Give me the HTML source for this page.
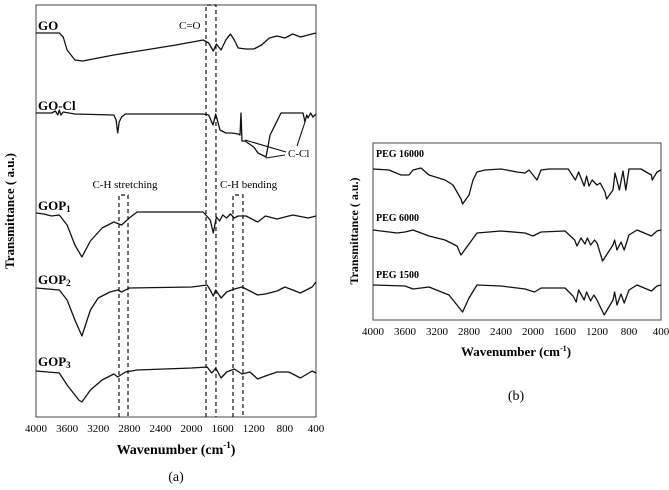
<!DOCTYPE html>
<html><head><meta charset="utf-8">
<style>
html,body{margin:0;padding:0;background:#fff;}
svg{display:block;font-family:"Liberation Serif",serif;}
</style></head>
<body>
<svg id="fig" width="669" height="490" viewBox="0 0 669 490" xmlns="http://www.w3.org/2000/svg">
<g id="pa"></g>
<g id="pb"></g>
</svg>
<script>
// ---- Panel (a) data: [wavenumber], [relative transmittance a.u. (down = absorption)]
const ticksA = [4000,3600,3200,2800,2400,2000,1600,1200,800,400];
const goW = [4000,3800,3700,3650,3600,3500,3400,3200,3000,2600,2200,1850,1780,1720,1680,1620,1560,1500,1450,1400,1300,1200,1100,1000,900,800,700,600,500,400];
const goV = [28,28,28,32,45,55,56,53,50,45,40,35,38,46,39,45,35,29,35,43,44,44,40,33,31,33,29,32,30,28];
const goclW = [4000,3800,3750,3720,3700,3680,3650,3500,3000,2970,2950,2930,2900,2850,1850,1780,1724,1690,1634,1560,1480,1400,1377,1364,1351,1313,1200,1146,1043,990,850,567,541,520,503,470,440,400];
const goclV = [108,108,106,110,105,110,107,109,110,115,128,117,112,109,109,110,120,109,125,128,128,129,130,108,136,136,142,148,152,130,108,108,117,110,113,108,112,109];
const gop1W = [4000,3900,3800,3700,3600,3500,3410,3300,3150,3000,2900,2800,2700,1850,1760,1720,1680,1640,1600,1550,1500,1450,1400,1300,1150,1050,900,700,500,400];
const gop1V = [208,209,211,210,220,240,252,236,223,217,220,213,207,207,215,228,212,216,210,213,209,213,211,211,217,211,214,210,213,211];
const gop2W = [4000,3700,3600,3500,3410,3300,3200,3050,2950,2900,2800,2000,1800,1760,1720,1690,1620,1550,1450,1350,1250,1150,1050,900,800,700,600,450,400];
const gop2V = [283,285,295,315,331,305,293,287,285,287,283,282,280,285,291,285,293,287,284,282,286,290,289,286,282,285,288,282,277];
const gop3W = [4000,3700,3600,3450,3410,3300,3150,3000,2950,2850,2700,2000,1800,1740,1690,1620,1550,1450,1350,1250,1150,1050,900,750,600,450,400];
const gop3V = [366,368,380,395,397,385,375,369,372,367,365,363,362,368,363,373,367,364,369,367,374,371,367,367,373,366,368];
// ---- Panel (b) data
const ticksB = [4000,3600,3200,2800,2400,2000,1600,1200,800,400];
const p16W = [4000,3800,3650,3550,3500,3400,3300,3100,3000,2900,2880,2800,2750,2700,2600,2400,2200,2100,2050,1950,1900,1800,1560,1470,1430,1360,1330,1300,1260,1200,1160,1100,1080,1000,975,920,875,840,800,650,520,510,450,400];
const p16V = [26,27,32,32,27,25,32,37,42,56,61,52,37,29,27,26,29,30,27,37,27,26,26,37,29,43,33,43,37,42,40,49,56,47,30,47,28,47,26,26,32,37,29,27];
const p6W = [4000,3700,3600,3500,3300,3100,2950,2900,2800,2700,2400,2100,2000,1900,1600,1480,1450,1400,1350,1320,1280,1230,1200,1130,1000,980,950,900,860,800,700,520,450,400];
const p6V = [87,90,89,87,93,97,103,112,101,90,88,90,93,89,88,97,103,95,101,95,102,97,100,118,102,97,107,99,107,92,87,93,88,87];
const p15W = [4000,3600,3500,3300,3050,2880,2800,2700,2400,2100,1980,1900,1600,1500,1460,1430,1360,1330,1280,1240,1200,1110,1000,980,950,900,860,800,700,520,450,400];
const p15V = [142,143,146,144,152,169,155,142,143,146,149,145,145,153,159,147,157,149,158,152,157,172,157,149,162,151,160,147,142,148,143,142];

const NS="http://www.w3.org/2000/svg";
function mk(parent,tag,attrs,text){const e=document.createElementNS(NS,tag);for(const k in attrs)e.setAttribute(k,attrs[k]);if(text!==undefined)e.textContent=text;parent.appendChild(e);return e;}

const A={x0:36,x1:316,y0:5,y1:417};
const xA=w=>A.x0+(4000-w)/3600*(A.x1-A.x0);
const yA=v=>A.y0+v;
const B={x0:373,x1:661,y0:143,y1:320};
const xB=w=>B.x0+(4000-w)/3600*(B.x1-B.x0);
const yB=v=>B.y0+v;

function line(g,W,V,xs,ys,name){
  const p=W.map((w,i)=>xs(w).toFixed(1)+","+ys(V[i]).toFixed(1)).join(" ");
  const e=mk(g,"polyline",{points:p,fill:"none",stroke:"#111","stroke-width":"1.3","stroke-linejoin":"round"});
  
  
}
function axes(g,G,ticks,xs,name){
  const r=mk(g,"rect",{x:G.x0,y:G.y0,width:G.x1-G.x0,height:G.y1-G.y0,fill:"none",stroke:"#444","stroke-width":"1"});
  
  
  ticks.forEach(t=>{
    const tx=mk(g,"text",{x:xs(t),y:G.y1+15,"text-anchor":"middle","font-size":"11"},String(t));
    
    
  });
}
function label(g,x,y,txt,size,bold,name,anchor){
  const t=mk(g,"text",{x:x,y:y,"font-size":size,"font-weight":bold?"bold":"normal","text-anchor":anchor||"start"},txt);
  
  
  return t;
}

const ga=document.getElementById("pa");
axes(ga,A,ticksA,xA,"panel-a");
const dash={fill:"none",stroke:"#111","stroke-width":"1.2","stroke-dasharray":"4,3"};
[[1814,1686,A.y0,"c-o-band-box"],[2933,2817,195,"ch-stretch-box"],[1467,1339,195,"ch-bend-box"]].forEach(b=>{
  const p=mk(ga,"path",Object.assign({d:`M${xA(b[0])},${A.y1} V${b[2]} H${xA(b[1])} V${A.y1}`},dash));
  
  
});
line(ga,goW,goV,xA,yA,"go-spectrum");
line(ga,goclW,goclV,xA,yA,"go-cl-spectrum");
line(ga,gop1W,gop1V,xA,yA,"gop1-spectrum");
line(ga,gop2W,gop2V,xA,yA,"gop2-spectrum");
line(ga,gop3W,gop3V,xA,yA,"gop3-spectrum");
const ann=mk(ga,"path",{d:"M245,140 L286,152 M266,158 L285,155 M305,122 L297,146",stroke:"#111","stroke-width":"1.1",fill:"none"});


label(ga,288,157,"C-Cl","11",false,"c-cl-annotation");
label(ga,179,29,"C=O","11",false,"c-o-annotation");
label(ga,125,188,"C-H stretching","11",false,"ch-stretching-annotation","middle");
label(ga,220,188,"C-H bending","11",false,"ch-bending-annotation");
label(ga,38,30,"GO","13",true,"go-label");
label(ga,38,110,"GO-Cl","13",true,"go-cl-label");
const l1=label(ga,38,210,"GOP","13",true,"gop1-label"); mk(l1,"tspan",{"font-size":"9",dy:"2"},"1");
const l2=label(ga,38,284,"GOP","13",true,"gop2-label"); mk(l2,"tspan",{"font-size":"9",dy:"2"},"2");
const l3=label(ga,38,366,"GOP","13",true,"gop3-label"); mk(l3,"tspan",{"font-size":"9",dy:"2"},"3");
const yt=label(ga,0,0,"Transmittance ( a.u.)","13",true,"y-axis-title-a","middle"); yt.setAttribute("transform","translate(14,211) rotate(-90)");
const xt=label(ga,176,454,"Wavenumber (cm","14",true,"x-axis-title-a","middle");
mk(xt,"tspan",{"font-size":"9",dy:"-6"},"-1"); mk(xt,"tspan",{dy:"6"},")");
label(ga,176,481,"(a)","14",false,"panel-a-caption","middle");

const gb=document.getElementById("pb");
axes(gb,B,ticksB,xB,"panel-b");
line(gb,p16W,p16V,xB,yB,"peg16000-spectrum");
line(gb,p6W,p6V,xB,yB,"peg6000-spectrum");
line(gb,p15W,p15V,xB,yB,"peg1500-spectrum");
label(gb,376,157,"PEG 16000","10",true,"peg16000-label");
label(gb,376,221,"PEG 6000","10",true,"peg6000-label");
label(gb,376,278,"PEG 1500","10",true,"peg1500-label");
const yb=label(gb,0,0,"Transmittance ( a.u.)","12",true,"y-axis-title-b","middle"); yb.setAttribute("transform","translate(358,231) rotate(-90)");
const xb=label(gb,516,356,"Wavenumber (cm","13",true,"x-axis-title-b","middle");
mk(xb,"tspan",{"font-size":"8",dy:"-5"},"-1"); mk(xb,"tspan",{dy:"5"},")");
label(gb,516,400,"(b)","14",false,"panel-b-caption","middle");
</script>
</body></html>
